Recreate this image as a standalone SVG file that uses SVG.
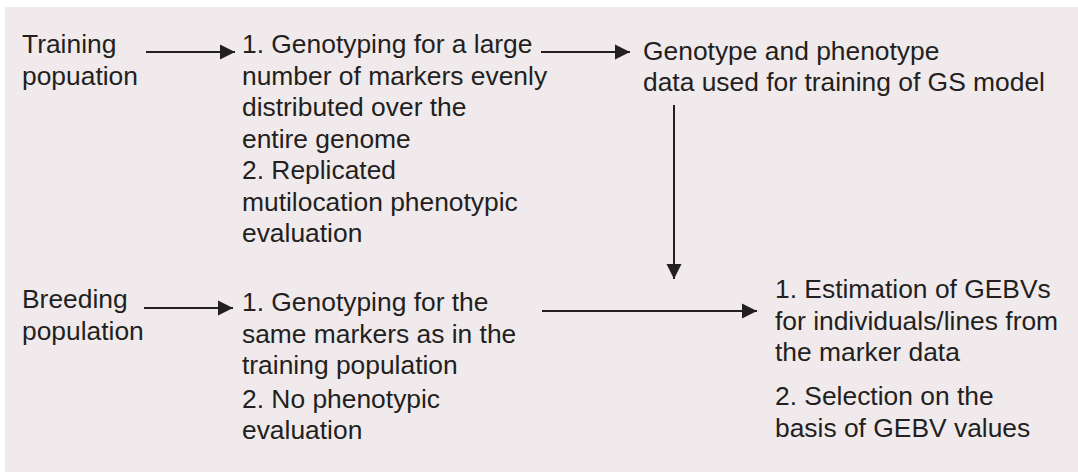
<svg xmlns="http://www.w3.org/2000/svg" width="1078" height="472" viewBox="0 0 1078 472">
<defs>
<style>
.t{font-family:"Liberation Sans",Arial,sans-serif;font-size:26.4px;fill:#231f20}
.c{stroke:#231f20;stroke-width:2;fill:none}
</style>
<marker id="ah" viewBox="0 0 10 10" refX="10" refY="5" markerWidth="7.8" markerHeight="7.6" markerUnits="strokeWidth" orient="auto">
<path d="M0,0 L10,5 L0,10 z" fill="#231f20"/>
</marker>
</defs>
<rect x="5" y="7" width="1073" height="465" fill="#f0eaec"/>
<g id="training">
<text class="t" x="22" y="53">Training</text>
<text class="t" x="22" y="85">popuation</text>
</g>
<g id="training-steps">
<text class="t" x="242" y="53">1. Genotyping for a large</text>
<text class="t" x="242" y="85">number of markers evenly</text>
<text class="t" x="242" y="116">distributed over the</text>
<text class="t" x="242" y="148">entire genome</text>
<text class="t" x="242" y="179">2. Replicated</text>
<text class="t" x="242" y="211">mutilocation phenotypic</text>
<text class="t" x="242" y="242">evaluation</text>
</g>
<g id="gs-model">
<text class="t" x="643" y="60">Genotype and phenotype</text>
<text class="t" x="643" y="91">data used for training of GS model</text>
</g>
<g id="breeding">
<text class="t" x="22" y="308">Breeding</text>
<text class="t" x="22" y="340">population</text>
</g>
<g id="breeding-steps">
<text class="t" x="242" y="311">1. Genotyping for the</text>
<text class="t" x="242" y="343">same markers as in the</text>
<text class="t" x="242" y="374">training population</text>
<text class="t" x="242" y="408">2. No phenotypic</text>
<text class="t" x="242" y="439">evaluation</text>
</g>
<g id="gebv">
<text class="t" x="775" y="298">1. Estimation of GEBVs</text>
<text class="t" x="775" y="330">for individuals/lines from</text>
<text class="t" x="775" y="361">the marker data</text>
<text class="t" x="775" y="405">2. Selection on the</text>
<text class="t" x="775" y="437">basis of GEBV values</text>
</g>
<g id="connectors">
<line class="c" x1="146" y1="52" x2="235" y2="52" marker-end="url(#ah)"/>
<line class="c" x1="541" y1="52" x2="630" y2="52" marker-end="url(#ah)"/>
<line class="c" x1="674" y1="105" x2="674" y2="279" marker-end="url(#ah)"/>
<line class="c" x1="144" y1="308" x2="233" y2="308" marker-end="url(#ah)"/>
<line class="c" x1="542" y1="311" x2="757" y2="311" marker-end="url(#ah)"/>
</g>
</svg>
